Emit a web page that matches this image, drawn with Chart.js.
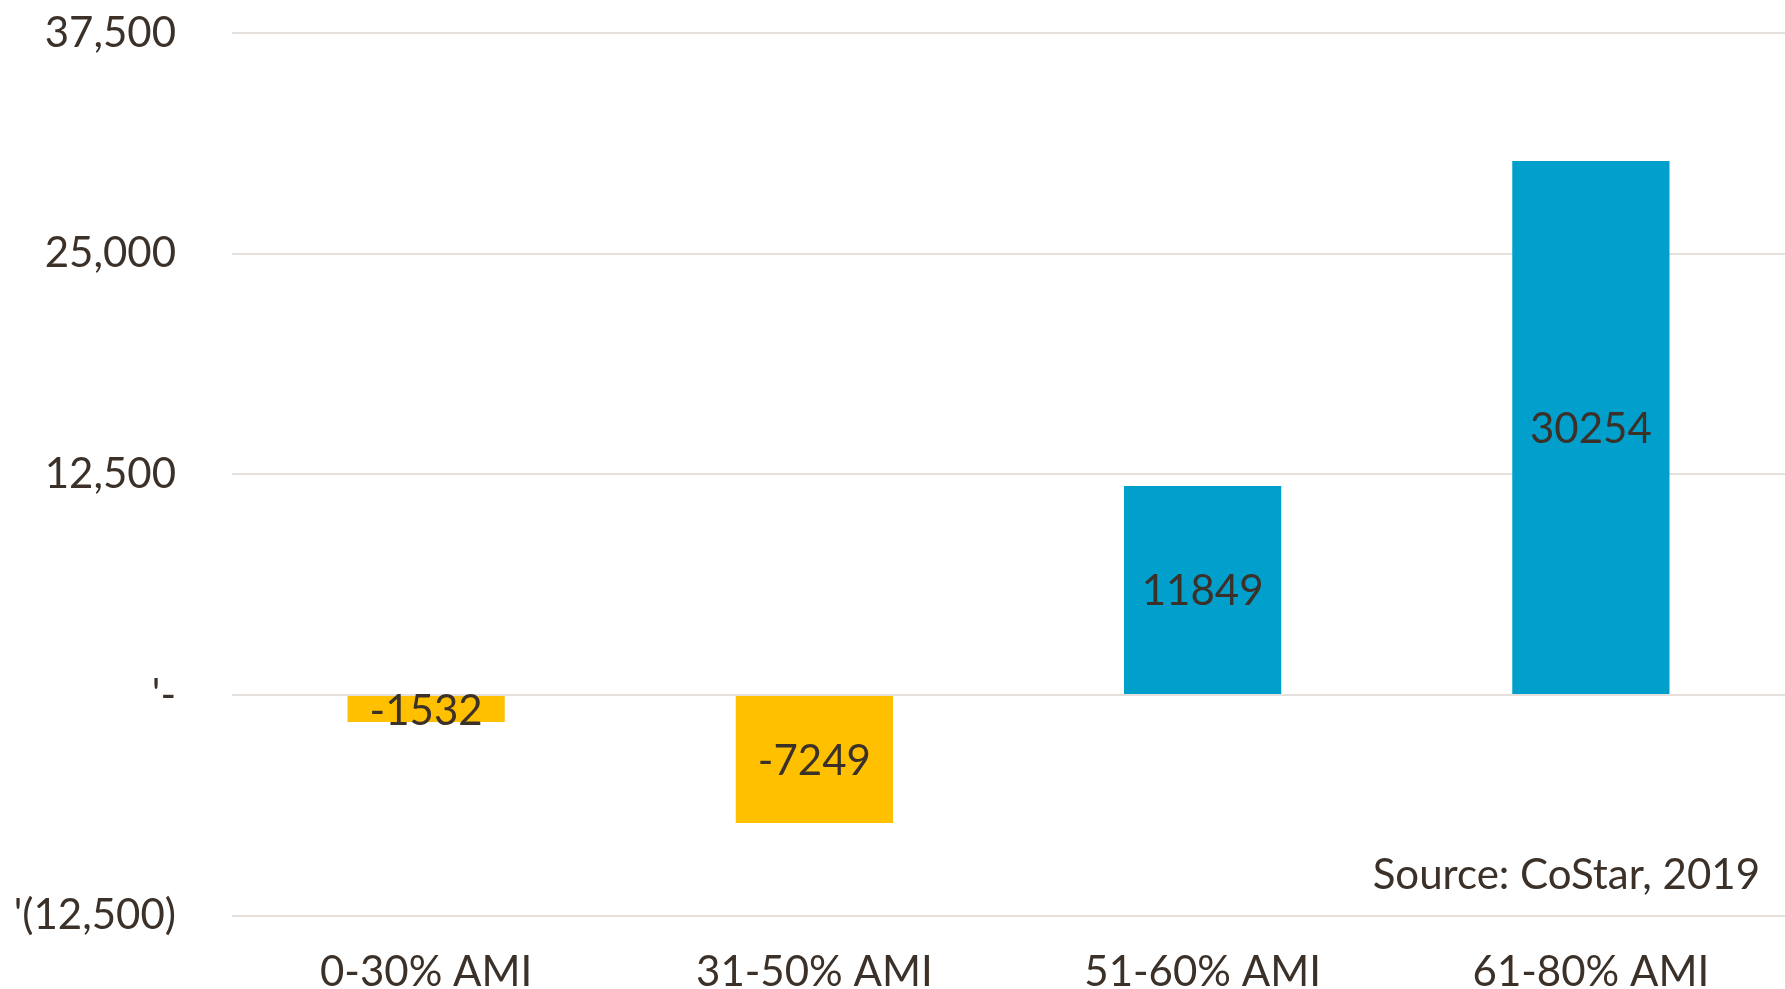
<!doctype html>
<html lang="en">
  <head>
    <meta charset="utf-8">
    <title>Net change by AMI band</title>
    <style>
      html, body { margin: 0; padding: 0; background: #fff; overflow: hidden; }
      canvas { display: block; }
    </style>
  </head>
  <body>
    <canvas id="myChart" width="1785" height="989"></canvas>

    <script src="https://cdn.jsdelivr.net/npm/chart.js"></script>
    <script>
        // data
        var categories = ['0-30% AMI', '31-50% AMI', '51-60% AMI', '61-80% AMI'];
        var values = [-1532, -7249, 11849, 30254];
        var tickValues = [-12500, 0, 12500, 25000, 37500];
        var tickLabels = ["'(12,500)", "'-", '12,500', '25,000', '37,500'];
        var sourceText = 'Source: CoStar, 2019';

        var textColor = '#3b3129';
        var fontName = 'Lato, "Noto Sans", sans-serif';

        var barColors = values.map(function(v){
            return v < 0 ? '#FFC000' : '#009FCC';
        });

        // value written in the middle of each bar
        var barLabels = {
            id: 'barLabels',
            afterDatasetsDraw: function(chart){
                var ctx = chart.ctx;
                var meta = chart.getDatasetMeta(0);
                ctx.save();
                ctx.font = '42px ' + fontName;
                ctx.fillStyle = textColor;
                ctx.textAlign = 'center';
                ctx.textBaseline = 'middle';
                meta.data.forEach(function(bar, i){
                    var mid = (bar.y + bar.base) / 2;
                    ctx.fillText(String(values[i]), bar.x, mid + 2);
                });
                ctx.restore();
            }
        };

        var sourceNote = {
            id: 'sourceNote',
            afterDraw: function(chart){
                var ctx = chart.ctx;
                var area = chart.chartArea;
                ctx.save();
                ctx.font = '42px ' + fontName;
                ctx.fillStyle = textColor;
                ctx.textAlign = 'right';
                ctx.textBaseline = 'middle';
                ctx.fillText(sourceText, 1760, area.bottom - 40);
                ctx.restore();
            }
        };

        const ctx = document.getElementById('myChart');
        new Chart(ctx, {
            type: 'bar',
            data: {
                labels: categories,
                datasets: [{
                    data: values,
                    backgroundColor: barColors,
                    borderWidth: 0,
                    categoryPercentage: 1,
                    barPercentage: 0.405
                }]
            },
            options: {
                responsive: false,
                animation: false,
                layout: { padding: { top: 0, right: -10, bottom: -33, left: 0 } },
                plugins: {
                    legend: { display: false },
                    tooltip: { enabled: false }
                },
                scales: {
                    x: {
                        grid: { display: false },
                        border: { display: false },
                        ticks: {
                            color: textColor,
                            font: { family: fontName, size: 42 },
                            padding: 24
                        }
                    },
                    y: {
                        min: -12500,
                        max: 37500,
                        afterFit: function(scale){ scale.width = 232; },
                        afterBuildTicks: function(scale){
                            scale.ticks = tickValues.map(function(v){ return { value: v }; });
                        },
                        grid: {
                            color: '#e6e0dc',
                            lineWidth: 2,
                            drawTicks: true,
                            tickLength: 48,
                            tickColor: 'rgba(0,0,0,0)'
                        },
                        border: { display: false },
                        ticks: {
                            color: textColor,
                            font: { family: fontName, size: 42 },
                            padding: 8,
                            callback: function(value){
                                var i = tickValues.indexOf(value);
                                return i >= 0 ? tickLabels[i] : '';
                            }
                        }
                    }
                }
            },
            plugins: [barLabels, sourceNote]
        });
    </script>
  </body>
</html>
